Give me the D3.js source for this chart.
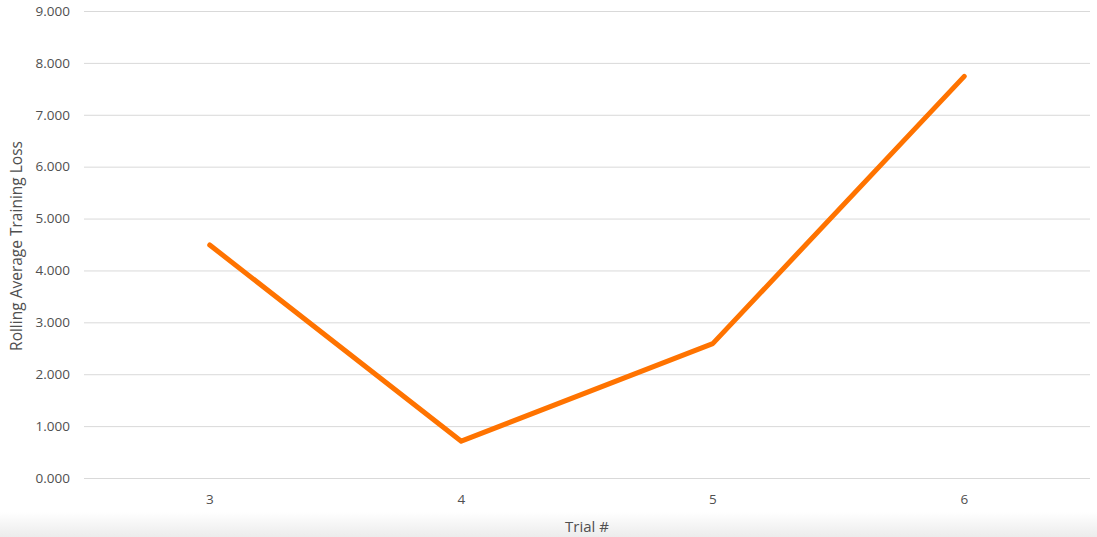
<!DOCTYPE html>
<html>
<head>
<meta charset="utf-8">
<script src="https://cdn.jsdelivr.net/npm/d3@7"></script>
<style>
  body { margin: 0; background: #fff; }
  text { font-family: "Open Sans", sans-serif; fill: #505050; }
</style>
</head>
<body>
<div id="chart"></div>
<script>
var trials = ["3", "4", "5", "6"];
var loss = [4.49, 0.71, 2.59, 7.74];
var yTicks = [0, 1, 2, 3, 4, 5, 6, 7, 8, 9];

function createChart() {

    var width = 1097;
    var height = 537;

    var margin = {
        top: 11,
        left: 84,
        right: 7,
        bottom: 59,
    };

    var svg = d3.select("#chart").append("svg")
        .attr("width", width)
        .attr("height", height);

    // soft grey shade along the bottom edge
    var grad = svg.append("defs").append("linearGradient")
        .attr("id", "shade")
        .attr("x1", 0).attr("y1", 0)
        .attr("x2", 0).attr("y2", 1);
    grad.append("stop").attr("offset", "0%").attr("stop-color", "#fff");
    grad.append("stop").attr("offset", "100%").attr("stop-color", "#ececec");

    svg.append("rect")
        .attr("x", 0)
        .attr("y", 512)
        .attr("width", width)
        .attr("height", height - 512)
        .attr("fill", "url(#shade)");

    var x = d3.scaleBand()
        .domain(trials)
        .range([margin.left, width - margin.right]);

    var y = d3.scaleLinear()
        .domain([0, 9])
        .range([height - margin.bottom, margin.top]);

    // gridlines + y labels
    var yAxis = svg.append("g")
        .attr("transform", "translate(" + margin.left + ",0)")
        .call(d3.axisLeft(y)
            .tickValues(yTicks)
            .tickSize(-(width - margin.left - margin.right))
            .tickPadding(14)
            .tickFormat(d3.format(".3f")));
    yAxis.select(".domain").remove();
    yAxis.selectAll("line").attr("stroke", "#d9d9d9").attr("stroke-width", 1);
    yAxis.selectAll("text")
        .attr("font-size", 13.5)
        .attr("font-family", "Open Sans, sans-serif")
        .attr("fill", "#505050");

    // x labels
    var xAxis = svg.append("g")
        .attr("transform", "translate(0," + (height - margin.bottom) + ")")
        .call(d3.axisBottom(x).tickSize(0).tickPadding(16));
    xAxis.select(".domain").remove();
    xAxis.selectAll("text")
        .attr("font-size", 13.5)
        .attr("font-family", "Open Sans, sans-serif")
        .attr("fill", "#505050");

    var line = d3.line()
        .x(function(d, i) { return x(trials[i]) + x.bandwidth() / 2; })
        .y(function(d) { return y(d); });

    svg.append("path")
        .datum(loss)
        .attr("d", line)
        .attr("fill", "none")
        .attr("stroke", "#ff7300")
        .attr("stroke-width", 5)
        .attr("stroke-linejoin", "round")
        .attr("stroke-linecap", "round");

    svg.append("text")
        .attr("x", (margin.left + width - margin.right) / 2)
        .attr("y", 532)
        .attr("text-anchor", "middle")
        .attr("font-size", 15)
        .text("Trial #");

    svg.append("text")
        .attr("transform", "translate(22,246) rotate(-90)")
        .attr("text-anchor", "middle")
        .attr("font-size", 15.5)
        .text("Rolling Average Training Loss");
}

createChart();
</script>
</body>
</html>
